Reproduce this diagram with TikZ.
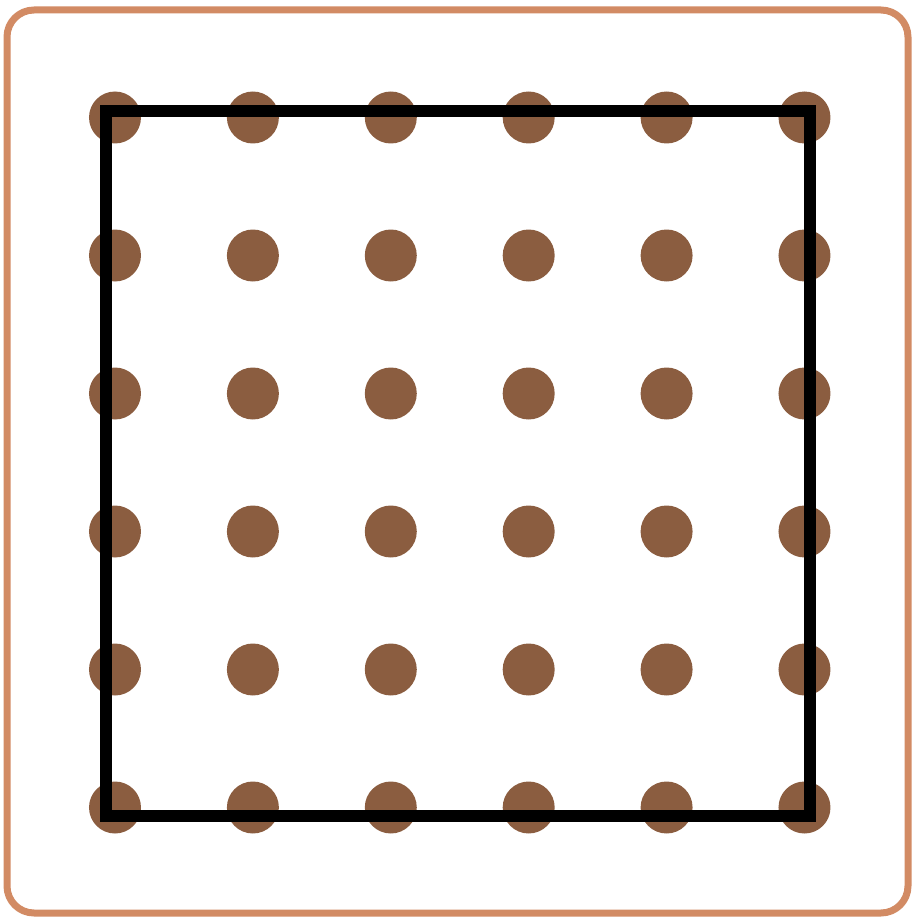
\documentclass[tikz,border=0pt]{standalone}
\usetikzlibrary{calc}

\definecolor{pegbrown}{RGB}{139,93,64}
\definecolor{boardedge}{RGB}{210,139,100}

\begin{document}
\begin{tikzpicture}[
    x=1cm, y=1cm,
    peg node/.style={circle, fill=pegbrown, draw=none, minimum size=0.52cm, inner sep=0pt},
    board edge/.style={draw=boardedge, line width=0.07cm, rounded corners=0.27cm},
    band edge/.style={draw=black, line width=0.12cm, line join=miter}
]
\useasboundingbox (0,0) rectangle (9.12,9.17);

% Brett
\draw[board edge] (0.07,0.04) rectangle (9.08,9.07);

% Nägel 6 x 6
\foreach \i in {0,...,5}
  \foreach \j in {0,...,5}
    \node[peg node] (p\i\j) at ({1.15+1.379*\i}, {7.995-1.38*\j}) {};

% Gummiband (Quadrat)
\coordinate (q1) at (1.06,8.06);
\coordinate (q2) at (8.095,8.06);
\coordinate (q3) at (8.095,1.01);
\coordinate (q4) at (1.06,1.01);
\draw[band edge] (q1) -- (q2) -- (q3) -- (q4) -- cycle;

\end{tikzpicture}
\end{document}
